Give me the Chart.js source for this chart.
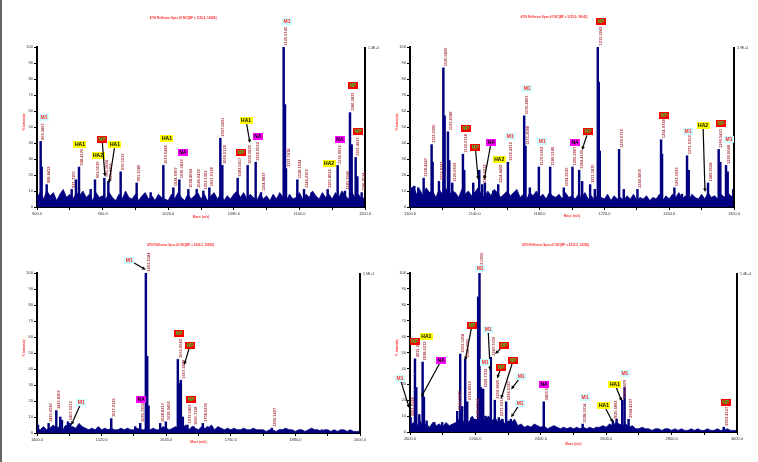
<!DOCTYPE html>
<html><head><meta charset="utf-8">
<script src="https://cdn.jsdelivr.net/npm/chart.js@4/dist/chart.umd.min.js"></script>
<style>
html,body{margin:0;padding:0;background:#fff;}
body{width:758px;height:462px;position:relative;overflow:hidden;}
#edge{position:absolute;left:0;top:0;width:2px;height:462px;background:#666;}
canvas{position:absolute;}
</style></head><body>
<div id="edge"></div>
<canvas id="c1" width="379" height="231" style="left:0;top:0;width:379px;height:231px"></canvas>
<canvas id="c2" width="379" height="231" style="left:379px;top:0;width:379px;height:231px"></canvas>
<canvas id="c3" width="379" height="231" style="left:0;top:231px;width:379px;height:231px"></canvas>
<canvas id="c4" width="379" height="231" style="left:379px;top:231px;width:379px;height:231px"></canvas>
<script>
// ---------------- DATA ----------------
// Panel titles / right-axis absolute intensity
const titles = [
  "4700 Reflector Spec #1 MC[BP = 1125.6, 14045]",
  "4700 Reflector Spec #1 MC[BP = 1215.9, 39043]",
  "4700 Reflector Spec #1 MC[BP = 1602.2, 25823]",
  "4700 Reflector Spec #1 MC[BP = 2212.5, 14356]"
];
const rightLabels = ["1.4E+4", "3.9E+4", "2.6E+4", "1.4E+4"];
// x-axis ranges and tick steps (labels every second tick)
const xMins = [900, 1100, 1400, 2000];
const xMaxs = [1200, 1300, 2000, 3000];
const xSteps = [30, 20, 60, 100];

// ---- Panel 1 ----
const p1NoiseStart = 900, p1NoiseStep = 3;
const p1Noise = [6,9,5,10,7,9,4,8,11,6, 8,5,9,7,10,6,8,4,9,6, 7,5,9,6,4,8,5,10,6,5, 8,4,7,9,5,7,4,8,6,5, 4,8,5,9,6,4,8,5,7,9, 5,8,4,7,9,5,8,4,7,5, 8,10,6,9,5,8,6,4,8,5, 7,4,8,5,9,6,4,8,5,6, 9,5,8,6,10,7,5,9,6,8, 5,9,6,10,7,5,9,6,8,5, 6];
const p1PeakMz = [903.3467,904.2713,908.8412,931.7105,935.6719,938.4126,949.0930,953.0519,961.5834,965.2406,976.5213,991.1580,1003.9612,1015.5486,1024.6907,1030.1823,1038.4094,1046.0435,1052.1302,1057.6178,1067.6831,1069.5120,1083.5417,1092.6830,1100.0062,1104.8837,1125.6145,1126.8327,1127.7418,1138.1034,1144.2163,1151.2245,1165.8522,1174.9913,1181.7046,1186.2831,1187.8042,1191.4627,1192.9915,1196.9524];
const p1PeakInt = [41,25,14,11,17,25,11,17,18,16,22,15,9,26,12,17,11,11,10,12,43,26,18,26,28,9,100,64,24,17,11,9,11,26,10,59,39,31,19,9];
const p1PeakLab = [1,0,1,1,0,1,0,1,1,1,1,1,0,1,1,1,1,1,1,1,1,1,1,1,1,1,1,0,1,1,1,0,1,1,1,1,0,1,0,1];
const p1Tag = ["M1","HA1","HA2","NP","HA1","HA1","NA","HA1","NP","NA","M1","HA2","NA","NP","NP"];
const p1TagMz = [906.4,939.3,955.8,959.5,971.3,1018.9,1033.5,1091.2,1086.6,1102.1,1128.7,1167.1,1177.1,1189.0,1193.6];
const p1TagY = [56,39,32.5,42.5,39,43,34,54,34,44,116,27.5,42,76,47.5];
const p1ArrowMz = [null,null,null,962.2,965.9,null,null,1094.8,null,null,null,null,null,null,null];
const p1ArrowY = [null,null,null,19,15,null,null,40,null,null,null,null,null,null,null];

// ---- Panel 2 ----
const p2NoiseStart = 1100, p2NoiseStep = 2;
const p2Noise = [9,13,8,11,7,12,9,10,6,11, 8,12,7,10,9,6,11,8,10,7, 9,12,8,6,10,7,11,9,6,8, 10,7,9,11,6,8,5,9,7,10, 6,8,5,9,7,6,8,5,9,6, 7,5,8,6,9,5,7,4,8,6, 5,8,4,7,5,6,4,7,5,8, 4,6,5,7,4,6,5,8,4,7, 5,8,6,9,5,7,4,8,6,5, 8,5,9,6,7,5,8,6,9,7, 6];
const p2PeakMz = [1100.6034,1102.6541,1105.1227,1108.4247,1113.3395,1113.9612,1117.8747,1120.5826,1121.3690,1123.4188,1124.2415,1126.0933,1132.6718,1133.4902,1139.0381,1142.7395,1144.5912,1146.2307,1151.3712,1154.4492,1160.4216,1170.4861,1171.3088,1173.9810,1179.5362,1186.5180,1194.9520,1200.2907,1204.4126,1206.2613,1211.1875,1214.0720,1215.9243,1216.5389,1217.1532,1229.0716,1231.9508,1240.3856,1254.9738,1255.5914,1263.1926,1267.9304,1271.0153,1272.0427,1283.9558,1290.5431,1291.5619,1295.0648,1296.0915,1299.5806];
const p2PeakInt = [12,13,12,18,39,28,16,87,57,47,29,15,33,23,15,23,14,15,10,14,28,57,38,12,25,25,12,25,23,16,14,11,100,78,35,36,11,11,42,33,12,8,32,23,15,36,28,26,22,11];
const p2PeakLab = [0,0,0,1,1,0,1,1,0,1,0,1,1,0,0,0,1,0,0,1,1,1,1,0,1,1,1,1,1,0,1,0,1,0,0,1,0,1,1,0,1,0,1,0,1,1,0,1,0,0];
const p2Tag = ["NP","NP","NA","HA2","M1","M1","M1","NA","NP","NP","NP","M1","HA2","NP","M1"];
const p2TagMz = [1134.5,1140.3,1150.1,1155.1,1161.9,1172.3,1181.6,1201.9,1209.9,1217.9,1256.8,1271.6,1280.9,1292.0,1296.9];
const p2TagY = [49,37.5,40.6,30,44,74,41,40.6,47,116,57.5,47.5,51,52,42];
const p2ArrowMz = [null,1142.1,1145.8,null,null,null,null,null,1206.2,null,null,null,1282.1,null,null];
const p2ArrowY = [null,17,17,null,null,null,null,null,35.6,null,null,null,9.4,null,null];

// ---- Panel 3 ----
const p3NoiseStart = 1400, p3NoiseStep = 6;
const p3Noise = [3,2,4,2,3,5,3,4,2,5, 3,4,3,6,4,3,2,3,2,4, 2,3,2,3,2,2,3,2,3,2, 2,3,2,2,3,2,3,2,2,4, 3,2,3,4,2,3,5,2,4,3, 2,4,3,3,5,2,4,3,2,3, 2,3,2,2,3,2,2,3,2,2, 2,1,2,2,1,2,2,3,2,2, 1,2,2,1,2,3,2,2,1,2, 2,1,2,1,2,2,1,2,1,1, 1];
const p3PeakMz = [1401.8124,1410.4318,1421.6047,1435.8256,1443.2105,1446.3092,1452.5117,1457.5213,1461.8034,1481.6420,1537.9135,1582.4271,1591.7302,1602.2184,1604.7096,1607.1935,1628.8217,1639.3456,1661.6043,1664.7124,1667.1889,1670.9325,1679.5402,1690.7118,1708.0236,1716.6942,1836.1407,1851.5126,1928.8863];
const p3PeakInt = [5,3,6,14,10,8,4,7,6,3,9,4,6,100,48,17,6,7,46,31,33,10,5,4,6,4,3,2,2];
const p3PeakLab = [0,0,1,1,0,0,0,1,0,0,1,0,1,1,0,0,1,1,1,0,1,0,1,1,1,0,1,0,0];
const p3Tag = ["M1","M1","NA","NP","NP","NP"];
const p3TagMz = [1571.3,1482.2,1593.6,1664.1,1684.5,1686.4];
const p3TagY = [108,19,21,62.5,55,21];
const p3ArrowMz = [1602.0,1463.7,null,null,1673.4,null];
const p3ArrowY = [102,5,null,null,42.5,null];

// ---- Panel 4 ----
const p4NoiseStart = 2000, p4NoiseStep = 10;
const p4Noise = [4,6,3,7,4,5,3,6,4,5, 3,6,4,5,6,8,5,9,6,10, 7,9,6,8,10,7,9,6,8,5, 7,6,8,4,5,3,4,3,5,4, 3,4,2,3,4,3,2,3,2,3, 2,3,2,3,2,3,2,3,3,4, 3,5,4,6,5,4,5,3,4,2, 2,3,2,2,1,2,2,1,2,2, 1,2,1,2,1,1,2,1,2,1, 1,2,1,1,2,1,1,2,1,1, 1];
const p4PeakMz = [2001.9138,2015.2057,2019.2176,2028.4309,2038.6213,2042.6118,2050.7902,2074.1846,2098.6015,2144.3872,2153.5218,2159.6120,2168.7705,2174.8913,2188.0946,2200.3164,2208.4721,2212.5065,2216.6240,2223.7313,2230.8842,2247.1650,2259.3826,2271.5917,2282.7904,2294.0135,2308.2248,2318.3912,2409.0127,2528.0314,2620.5893,2631.8248,2649.0876,2656.2311,2668.4107,2681.6350,2959.4127];
const p4PeakInt = [9,46,28,11,44,22,7,6,6,13,49,16,46,19,9,8,85,100,28,27,10,47,20,9,8,19,8,6,19,5,7,8,20,28,8,3,3];
const p4PeakLab = [1,1,0,0,1,0,0,0,0,1,1,0,1,1,0,1,0,1,0,1,0,1,1,1,0,1,0,0,1,1,1,0,1,0,1,0,1];
const p4Tag = ["M1","NP","HA1","NA","NP","M1","M1","M1","NP","NP","NP","M1","M1","NA","M1","HA1","HA1","M1","NP"];
const p4TagMz = [1969.5,2014.0,2049.8,2095.5,2189.3,2214.6,2239.0,2229.9,2286.9,2278.7,2315.3,2339.8,2336.7,2410.0,2535.1,2593.1,2626.7,2657.2,2965.5];
const p4TagY = [33.7,57,60,45,67,103,64.5,44,54.5,40.7,45,35,18,30,21.8,16.8,30,37,18.6];
const p4ArrowMz = [1997.9,null,null,2034.5,2168.8,null,2245.1,null,2260.4,2266.5,2278.7,2309.2,2309.2,null,null,2620.6,2648.0,null,null];
const p4ArrowY = [15,null,null,22,45,null,38.8,null,49,33.7,21,26.8,9.2,null,null,6,19.3,null,null];

// ---------------- RENDERING ----------------
const FONT = '"Liberation Sans", Arial, sans-serif';
const TAG_STYLE = {
  M1: {bg:'#ccffff', fg:'#ff2a2a'},
  HA1:{bg:'#ffff00', fg:'#000000'},
  HA2:{bg:'#ffff00', fg:'#000000'},
  NP: {bg:'#ff0000', fg:'#33cc33'},
  NA: {bg:'#ff00ff', fg:'#000000'}
};

const specPlugin = {
  id: 'spec',
  afterDatasetsDraw(chart, args, o) {
    const ctx = chart.ctx, xs = chart.scales.x, ys = chart.scales.y, a = chart.chartArea;
    ctx.save();
    // right axis line
    ctx.strokeStyle = '#000'; ctx.lineWidth = 2;
    ctx.beginPath(); ctx.moveTo(a.right, a.top); ctx.lineTo(a.right, a.bottom + 1); ctx.stroke();
    ctx.fillStyle = '#333'; ctx.font = '3.5px ' + FONT; ctx.textAlign = 'left'; ctx.textBaseline = 'middle';
    ctx.fillText(o.rightLabel, a.right + 3, a.top + 1);
    // titles
    ctx.fillStyle = '#ff3030'; ctx.font = 'bold 3px ' + FONT; ctx.textAlign = 'center';
    ctx.fillText(o.title, (a.left + a.right) / 2 - 18, o.titleY);
    ctx.font = 'bold 3.2px ' + FONT;
    ctx.fillText('Mass (m/z)', (a.left + a.right) / 2, o.xTitleY);
    ctx.save();
    ctx.translate(a.left - 13, (a.top + a.bottom) / 2 - 5);
    ctx.rotate(-Math.PI / 2);
    ctx.fillText('% Intensity', 0, 0);
    ctx.restore();
    // peak labels
    ctx.fillStyle = '#a8343f'; ctx.font = 'bold 4px ' + FONT; ctx.textAlign = 'left'; ctx.textBaseline = 'middle';
    for (let i = 0; i < o.peakMz.length; i++) {
      if (!o.peakLab[i]) continue;
      const px = xs.getPixelForValue(o.peakMz[i]);
      const py = ys.getPixelForValue(o.peakInt[i]);
      ctx.save();
      ctx.translate(px + 2.7, py - 1.5);
      ctx.rotate(-Math.PI / 2);
      ctx.fillText(o.peakMz[i].toFixed(4), 0, 0);
      ctx.restore();
    }
    // tags + arrows
    ctx.font = 'bold 5px ' + FONT; ctx.textAlign = 'center'; ctx.textBaseline = 'middle';
    for (let i = 0; i < o.tag.length; i++) {
      const bx = xs.getPixelForValue(o.tagMz[i]);
      const by = ys.getPixelForValue(o.tagY[i]);
      const w = ctx.measureText(o.tag[i]).width + 3, h = 7;
      if (o.arrowMz[i] !== null) {
        const tx = xs.getPixelForValue(o.arrowMz[i]);
        const ty = ys.getPixelForValue(o.arrowY[i]);
        const dx = tx - bx, dy = ty - by;
        const t = Math.min(dx !== 0 ? (w / 2) / Math.abs(dx) : 1e9, dy !== 0 ? (h / 2) / Math.abs(dy) : 1e9);
        const sx = bx + dx * t, sy = by + dy * t;
        const ang = Math.atan2(ty - sy, tx - sx);
        ctx.strokeStyle = '#000'; ctx.fillStyle = '#000'; ctx.lineWidth = 1.2;
        ctx.beginPath(); ctx.moveTo(sx, sy);
        ctx.lineTo(tx - Math.cos(ang) * 2.5, ty - Math.sin(ang) * 2.5); ctx.stroke();
        ctx.beginPath();
        ctx.moveTo(tx, ty);
        ctx.lineTo(tx - Math.cos(ang - 0.45) * 4, ty - Math.sin(ang - 0.45) * 4);
        ctx.lineTo(tx - Math.cos(ang + 0.45) * 4, ty - Math.sin(ang + 0.45) * 4);
        ctx.closePath(); ctx.fill();
      }
      const st = TAG_STYLE[o.tag[i]];
      ctx.fillStyle = st.bg;
      ctx.fillRect(Math.round(bx - w / 2), Math.round(by - h / 2), Math.round(w), h);
      ctx.fillStyle = st.fg;
      ctx.fillText(o.tag[i], bx, by + 0.3);
    }
    ctx.restore();
  }
};

function fmt(v) { return v.toFixed(1); }

function makeChart(id, idx, noise, nStart, nStep, pMz, pInt, pLab, tag, tagMz, tagY, arrMz, arrY, lay) {
  const noiseData = noise.map((v, i) => ({x: nStart + i * nStep, y: v}));
  const peakData = pMz.map((m, i) => ({x: m, y: pInt[i]}));
  new Chart(document.getElementById(id), {
    type: 'line',
    data: {
      datasets: [
        {type: 'bar', data: peakData, backgroundColor: '#000080', borderWidth: 0, barThickness: 1.8, grouped: false},
        {type: 'line', data: noiseData, borderColor: '#000080', borderWidth: 0.8, backgroundColor: '#000080',
         fill: 'origin', pointRadius: 0, tension: 0}
      ]
    },
    options: {
      responsive: false, animation: false, devicePixelRatio: 1,
      layout: {padding: {left: 0, right: lay.right, top: lay.top, bottom: 0}},
      plugins: {
        legend: {display: false}, tooltip: {enabled: false},
        spec: {title: titles[idx], rightLabel: rightLabels[idx], titleY: lay.titleY, xTitleY: lay.xTitleY,
               peakMz: pMz, peakInt: pInt, peakLab: pLab, tag: tag, tagMz: tagMz, tagY: tagY,
               arrowMz: arrMz, arrowY: arrY}
      },
      scales: {
        x: {
          type: 'linear', min: xMins[idx], max: xMaxs[idx], offset: false,
          afterFit: s => { s.height = lay.xh; },
          grid: {display: true, drawOnChartArea: false, drawTicks: true, tickLength: 3, color: '#000', offset: false},
          border: {display: true, color: '#000', width: 2},
          ticks: {stepSize: xSteps[idx], autoSkip: false, maxRotation: 0, minRotation: 0, padding: 1,
                  color: '#333', font: {size: 4, family: FONT},
                  callback: (v, i) => (i % 2 === 0 ? fmt(v) : '')}
        },
        y: {
          min: 0, max: 100,
          afterFit: s => { s.width = lay.yw; },
          grid: {display: true, drawOnChartArea: false, drawTicks: true, tickLength: 3, color: '#000'},
          border: {display: true, color: '#000', width: 2},
          ticks: {stepSize: 10, padding: 1, color: '#333', font: {size: 4, family: FONT}}
        }
      }
    },
    plugins: [specPlugin]
  });
}

makeChart('c1', 0, p1Noise, p1NoiseStart, p1NoiseStep, p1PeakMz, p1PeakInt, p1PeakLab, p1Tag, p1TagMz, p1TagY, p1ArrowMz, p1ArrowY,
  {yw: 37, right: 14, top: 47, xh: 24, titleY: 18, xTitleY: 217});
makeChart('c2', 1, p2Noise, p2NoiseStart, p2NoiseStep, p2PeakMz, p2PeakInt, p2PeakLab, p2Tag, p2TagMz, p2TagY, p2ArrowMz, p2ArrowY,
  {yw: 31, right: 24, top: 47, xh: 24, titleY: 17, xTitleY: 216});
makeChart('c3', 2, p3Noise, p3NoiseStart, p3NoiseStep, p3PeakMz, p3PeakInt, p3PeakLab, p3Tag, p3TagMz, p3TagY, p3ArrowMz, p3ArrowY,
  {yw: 37, right: 19, top: 42, xh: 29, titleY: 14, xTitleY: 211});
makeChart('c4', 3, p4Noise, p4NoiseStart, p4NoiseStep, p4PeakMz, p4PeakInt, p4PeakLab, p4Tag, p4TagMz, p4TagY, p4ArrowMz, p4ArrowY,
  {yw: 31, right: 21, top: 42, xh: 30, titleY: 14, xTitleY: 213});
</script>
</body></html>
